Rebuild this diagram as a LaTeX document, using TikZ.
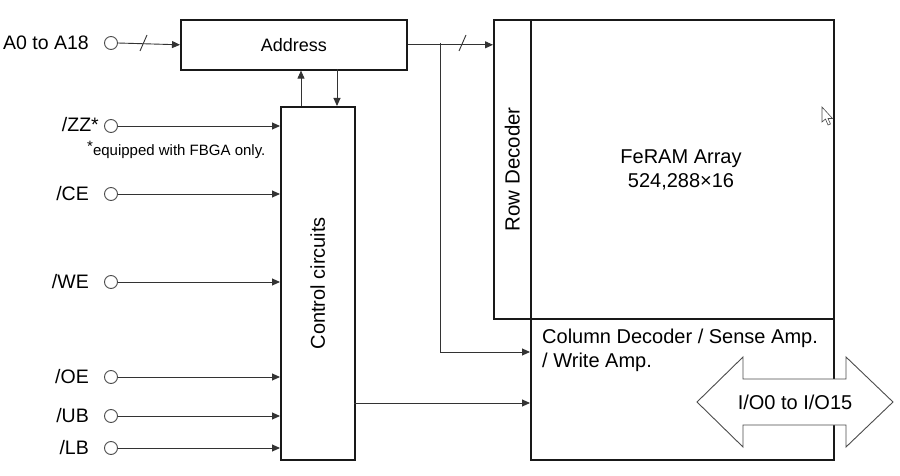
\documentclass[tikz,border=0pt]{standalone}
\usepackage{fontspec}
\setmainfont{Liberation Sans}
\usetikzlibrary{arrows.meta}
\begin{document}
\begin{tikzpicture}[x=1pt,y=-1pt,
  box/.style={draw=black!90,line width=1.6pt,inner sep=0pt,anchor=north west},
  wire/.style={draw=black!80,line width=0.9pt},
  arr/.style={wire,-{Triangle[length=8pt,width=7pt]}},
  pin/.style={circle,draw=black!70,line width=0.9pt,minimum size=13pt,inner sep=0pt,fill=white},
  lbl/.style={anchor=east,inner sep=0pt,font=\fontsize{19.5}{23}\selectfont},
  txt/.style={inner sep=0pt,font=\fontsize{20}{24}\selectfont}]
\useasboundingbox (0,0) rectangle (900,476);
% boxes
\node[box,minimum width=226pt,minimum height=50pt] (addr) at (180,19) {};
\node[inner sep=0pt,font=\fontsize{18}{22}\selectfont] (addrt) at (addr.center) {Address};
\node[box,minimum width=37pt,minimum height=299pt] (row) at (493,19) {};
\node[txt,rotate=90,font=\fontsize{20.5}{24}\selectfont] (rowt) at (row.center) {Row Decoder};
\node[box,minimum width=303pt,minimum height=299pt] (arr) at (530,19) {};
\node[txt,align=center] (arrt) at (681,170) {FeRAM Array\\524,288×16};
\node[box,minimum width=303pt,minimum height=141pt] (col) at (530,318) {};
\node[txt,align=left,anchor=north west] (colt) at (542,329) {Column Decoder / Sense Amp.\\/ Write Amp.};
\node[box,minimum width=74pt,minimum height=353pt] (ctrl) at (280,106) {};
\node[txt,rotate=90] (ctrlt) at (ctrl.center) {Control circuits};
% pins
\node[pin] (pA) at (111,43) {};
\node[lbl] (lA) at (89,43) {A0 to A18};
\node[pin] (pZ) at (111,126) {};
\node[lbl] (lZ) at (99,125) {/ZZ*};
\node[anchor=west,inner sep=0pt,font=\fontsize{15}{18}\selectfont] (note) at (87,150) {\raisebox{0.45ex}{*}equipped with FBGA only.};
\node[pin] (pC) at (111,194) {};
\node[lbl] (lC) at (89,194) {/CE};
\node[pin] (pW) at (111,282) {};
\node[lbl] (lW) at (89,282) {/WE};
\node[pin] (pO) at (111,377) {};
\node[lbl] (lO) at (89,377) {/OE};
\node[pin] (pU) at (111,416) {};
\node[lbl] (lU) at (89,416) {/UB};
\node[pin] (pL) at (111,448) {};
\node[lbl] (lL) at (89,448) {/LB};
% input wires
\draw[arr] (pA.east) -- (addr.west);
\draw[wire] (140,51) -- (147,35);
\foreach \p in {pZ,pC,pW,pO,pU,pL}{\draw[arr] (\p.east) -- (ctrl.west |- \p);}
% address <-> control
\coordinate (up) at (301,106);
\coordinate (dn) at (337,69);
\draw[arr] (up) -- (up |- addr.south);
\draw[arr] (dn) -- (dn |- ctrl.north);
% address to row decoder and column
\coordinate (br) at (440,43);
\draw[arr] (addr.east) -- (row.west |- addr.east);
\draw[wire] (459,51) -- (466,35);
\coordinate (c1) at (440,352);
\draw[arr] (br) -- (c1) -- (col.west |- c1);
% control to column
\coordinate (c2) at (354,403);
\draw[arr] (c2) -- (col.west |- c2);
% I/O double arrow
\draw[draw=black!70,line width=0.9pt,fill=white] (697,402) -- (743,357) -- (743,379) -- (846,379) -- (846,357) -- (893,402) -- (846,447) -- (846,425) -- (743,425) -- (743,447) -- cycle;
\node[txt] (io) at (795,402) {I/O0 to I/O15};
% cursor
\draw[black!70,line width=0.6pt,fill=white] (822,107) -- (822,122) -- (825.5,119) -- (828,125) -- (830.5,124) -- (828,118.5) -- (832.5,118.5) -- cycle;
\end{tikzpicture}
\end{document}
